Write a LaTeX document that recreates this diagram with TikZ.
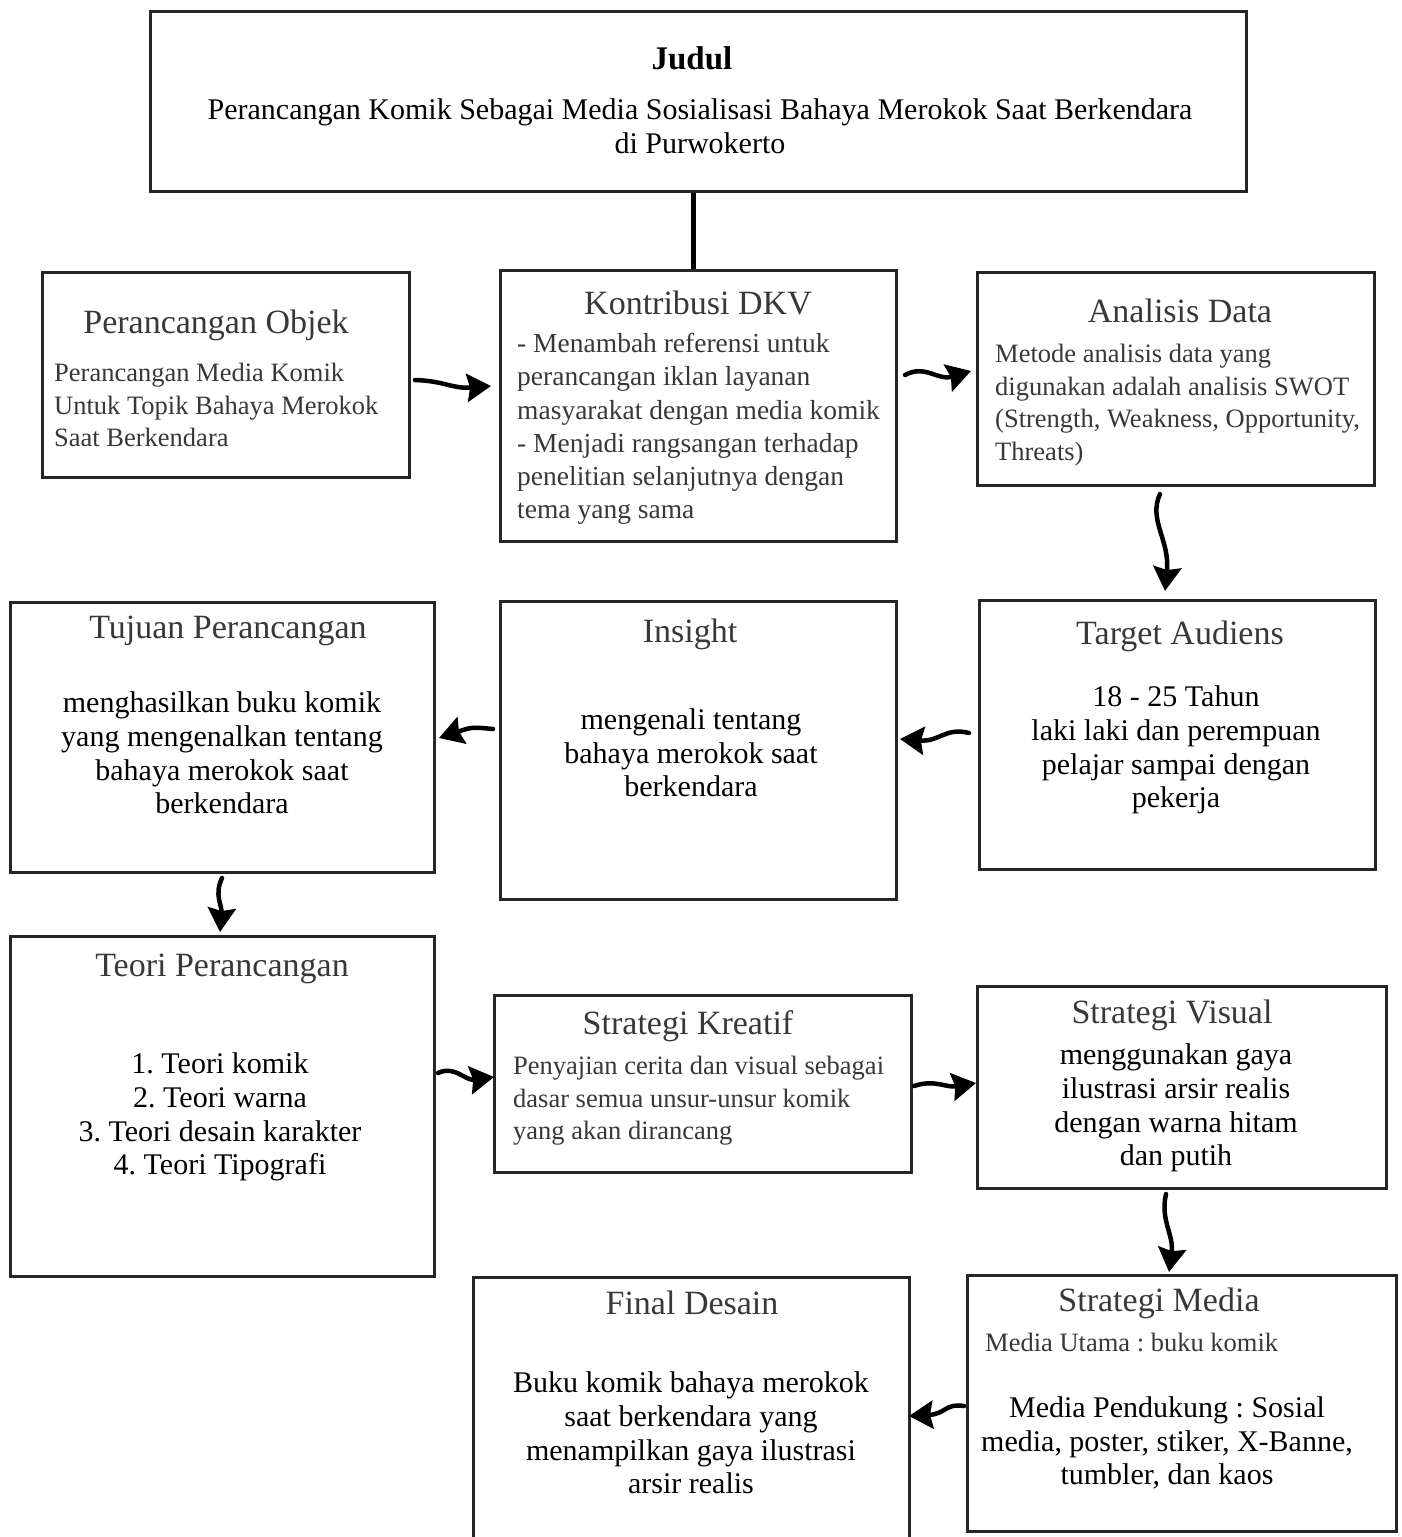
\documentclass[tikz,border=0pt]{standalone}
\usepackage{fontspec}
\setmainfont{Liberation Serif}
\usetikzlibrary{arrows.meta}
\definecolor{txtgray}{gray}{0.22}
\frenchspacing
\begin{document}
\begin{tikzpicture}[x=1pt,y=-1pt,
 box/.style={draw=black!85,line width=2.6pt,inner sep=0pt,anchor=north west},
 ttl/.style={text=txtgray,font=\frenchspacing\fontsize{34}{38}\selectfont,inner sep=0pt},
 gbody/.style={text=txtgray,font=\frenchspacing\fontsize{26.5}{32.5}\selectfont,align=left,inner sep=0pt,anchor=west},
 bbody/.style={text=black,font=\frenchspacing\fontsize{30}{33.7}\selectfont,align=center,inner sep=0pt},
 arr/.style={line width=4.5pt,-{Stealth[length=24pt,width=28pt,inset=3pt]},line cap=round}
]
\clip (0,0) rectangle (1401,1537);
\fill[white] (0,0) rectangle (1401,1537);

% boxes
\node[box,minimum width=1096pt,minimum height=180pt] (judul) at (149,10) {};
\node[box,minimum width=367pt,minimum height=205pt] (objek) at (41,271) {};
\node[box,minimum width=396pt,minimum height=271pt] (kontri) at (499,269) {};
\node[box,minimum width=397pt,minimum height=213pt] (analisis) at (976,271) {};
\node[box,minimum width=424pt,minimum height=270pt] (tujuan) at (9,601) {};
\node[box,minimum width=396pt,minimum height=298pt] (insight) at (499,600) {};
\node[box,minimum width=396pt,minimum height=269pt] (target) at (978,599) {};
\node[box,minimum width=424pt,minimum height=340pt] (teori) at (9,935) {};
\node[box,minimum width=417pt,minimum height=177pt] (kreatif) at (493,994) {};
\node[box,minimum width=409pt,minimum height=202pt] (visual) at (976,985) {};
\node[box,minimum width=436pt,minimum height=290pt] (final) at (472,1276) {};
\node[box,minimum width=429pt,minimum height=256pt] (media) at (966,1274) {};

% texts
\node[inner sep=0pt,font=\bfseries\fontsize{33}{38}\selectfont] (tjudul) at (692,58) {Judul};
\node[bbody] (bjudul) at (700,126) {Perancangan Komik Sebagai Media Sosialisasi Bahaya Merokok Saat Berkendara\\di Purwokerto};

\node[ttl] (tobjek) at (216,325) {Perancangan Objek};
\node[gbody] (bobjek) at (54,405) {Perancangan Media Komik\\Untuk Topik Bahaya Merokok\\Saat Berkendara};

\node[ttl] (tkontri) at (698,303) {Kontribusi DKV};
\node[gbody,font=\frenchspacing\fontsize{27.5}{33.2}\selectfont] (bkontri) at (517,429) {- Menambah referensi untuk\\perancangan iklan layanan\\masyarakat dengan media komik\\- Menjadi rangsangan terhadap\\penelitian selanjutnya dengan\\tema yang sama};

\node[ttl] (tanalisis) at (1180,311) {Analisis Data};
\node[gbody] (banalisis) at (995,405) {Metode analisis data yang\\digunakan adalah analisis SWOT\\(Strength, Weakness, Opportunity,\\Threats)};

\node[ttl] (ttujuan) at (228,631) {Tujuan Perancangan};
\node[bbody] (btujuan) at (222,753) {menghasilkan buku komik\\yang mengenalkan tentang\\bahaya merokok saat\\berkendara};

\node[ttl] (tinsight) at (690,634) {Insight};
\node[bbody] (binsight) at (691,753) {mengenali tentang\\bahaya merokok saat\\berkendara};

\node[ttl] (ttarget) at (1180,636) {Target Audiens};
\node[bbody] (btarget) at (1176,750) {18 - 25 Tahun\\laki laki dan perempuan\\pelajar sampai dengan\\pekerja};

\node[ttl] (tteori) at (222,969) {Teori Perancangan};
\node[bbody] (bteori) at (220,1117) {1. Teori komik\\2. Teori warna\\3. Teori desain karakter\\4. Teori Tipografi};

\node[ttl] (tkreatif) at (688,1026) {Strategi Kreatif};
\node[gbody] (bkreatif) at (513,1101) {Penyajian cerita dan visual sebagai\\dasar semua unsur-unsur komik\\yang akan dirancang};

\node[ttl] (tvisual) at (1172,1015) {Strategi Visual};
\node[bbody] (bvisual) at (1176,1108) {menggunakan gaya\\ilustrasi arsir realis\\dengan warna hitam\\dan putih};

\node[ttl] (tfinal) at (692,1303) {Final Desain};
\node[bbody] (bfinal) at (691,1433) {Buku komik bahaya merokok\\saat berkendara yang\\menampilkan gaya ilustrasi\\arsir realis};

\node[ttl] (tmedia) at (1159,1303) {Strategi Media};
\node[gbody] (umedia) at (985,1342) {Media Utama : buku komik};
\node[bbody] (bmedia) at (1167,1443) {Media Pendukung : Sosial\\media, poster, stiker, X-Banne,\\tumbler, dan kaos};

% connectors
\draw[line width=5pt] ([xshift=-5pt]judul.south) -- ([xshift=-5pt]kontri.north);

\coordinate (a1s) at (415,380); \coordinate (a1e) at (491,386);
\coordinate (a2s) at (905,375); \coordinate (a2e) at (971,371);
\coordinate (a3s) at (1160,494); \coordinate (a3e) at (1165,591);
\coordinate (a4s) at (969,733); \coordinate (a4e) at (900,739);
\coordinate (a5s) at (493,729); \coordinate (a5e) at (439,738);
\coordinate (a6s) at (222,878); \coordinate (a6e) at (220,932);
\coordinate (a7s) at (438,1073); \coordinate (a7e) at (494,1077);
\coordinate (a8s) at (914,1086); \coordinate (a8e) at (976,1083);
\coordinate (a9s) at (1166,1194); \coordinate (a9e) at (1169,1272);
\coordinate (a10s) at (964,1406); \coordinate (a10e) at (909,1416);

\draw[arr] (a1s) .. controls (445,381) and (452,389) .. (a1e);
\draw[arr] (a2s) .. controls (925,364) and (938,381) .. (a2e);
\draw[arr] (a3s) .. controls (1148,520) and (1170,540) .. (a3e);
\draw[arr] (a4s) .. controls (945,727) and (940,742) .. (a4e);
\draw[arr] (a5s) .. controls (472,727) .. (a5e);
\draw[arr] (a6s) .. controls (214,895) and (222,905) .. (a6e);
\draw[arr] (a7s) .. controls (455,1065) and (465,1081) .. (a7e);
\draw[arr] (a8s) .. controls (935,1079) and (946,1088) .. (a8e);
\draw[arr] (a9s) .. controls (1160,1220) and (1174,1235) .. (a9e);
\draw[arr] (a10s) .. controls (945,1403) and (946,1414) .. (a10e);
\end{tikzpicture}
\end{document}
